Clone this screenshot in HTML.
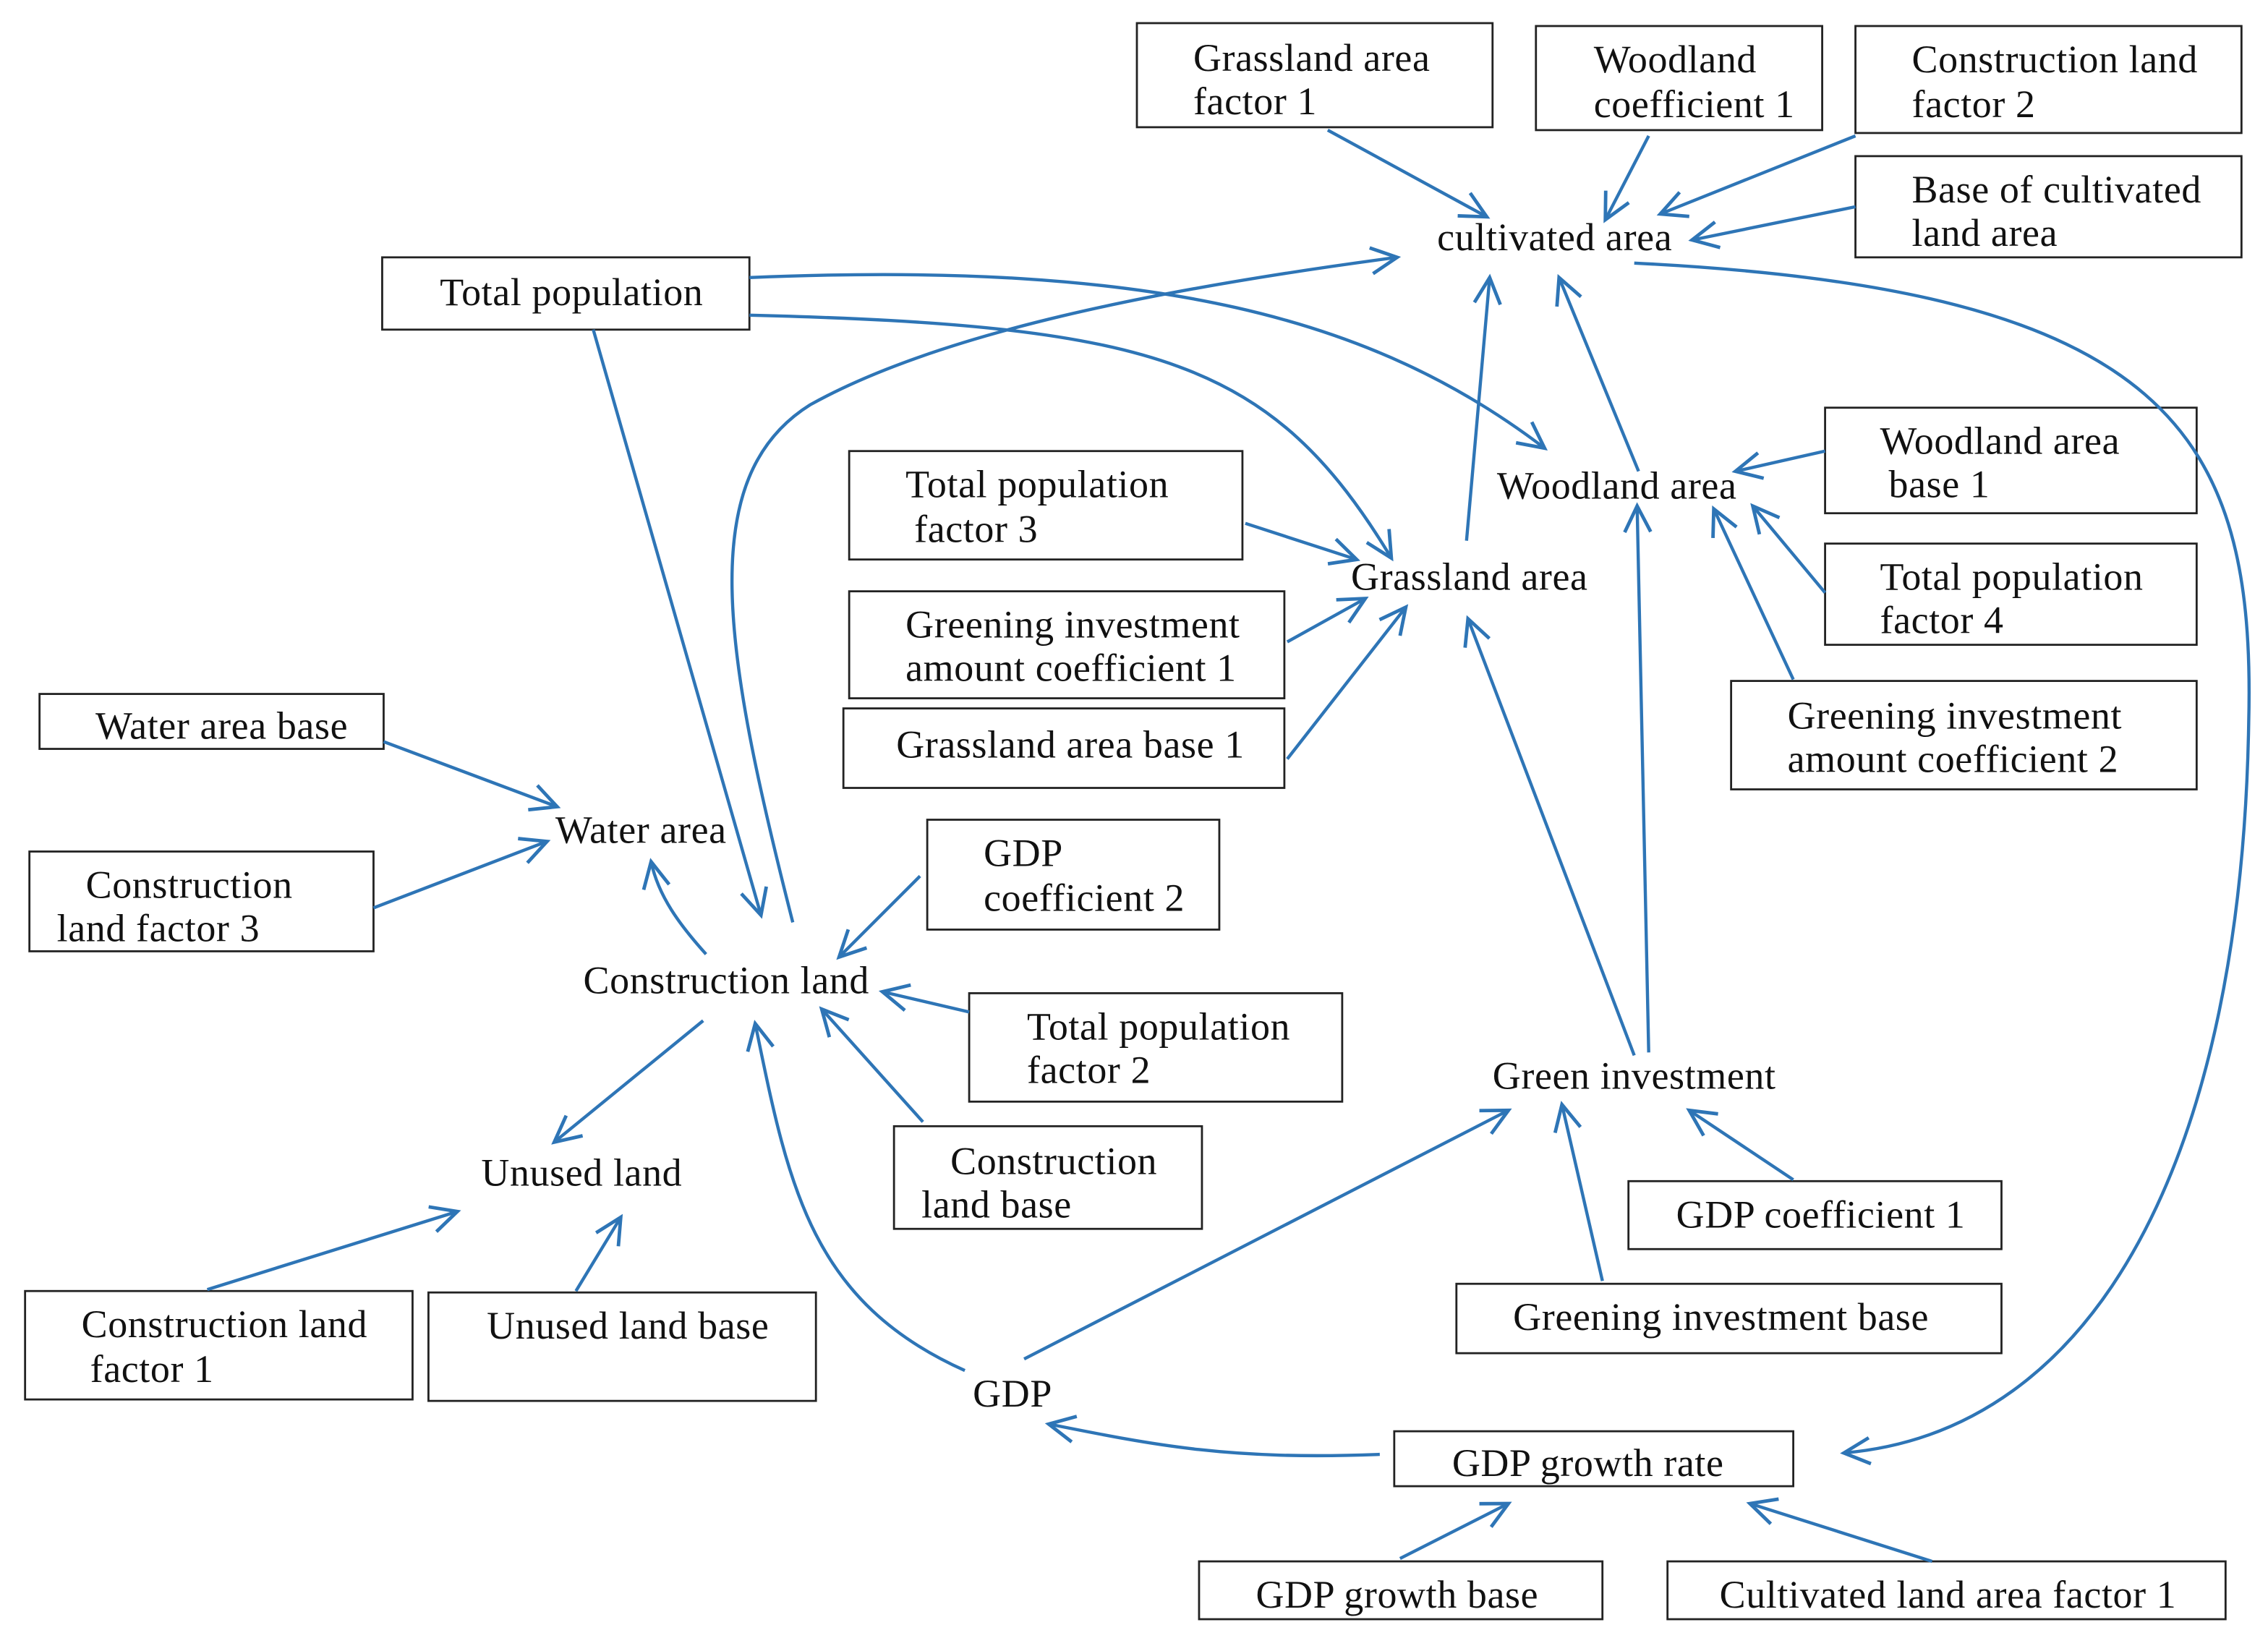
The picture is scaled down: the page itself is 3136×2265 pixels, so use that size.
<!DOCTYPE html>
<html><head><meta charset="utf-8"><style>
html,body{margin:0;padding:0;background:#fff}
svg{display:block}
text{font-family:"Liberation Serif",serif;font-size:27px;letter-spacing:0.3px;fill:#111}
rect{fill:#fff;stroke:#222;stroke-width:1.4}
.l{fill:none;stroke:#2e75b6;stroke-width:2.2;marker-end:url(#a)}
</style></head><body>
<svg width="3136" height="2265" viewBox="0 0 1568 1133" xmlns="http://www.w3.org/2000/svg">
<defs><marker id="a" markerUnits="userSpaceOnUse" markerWidth="30" markerHeight="30" refX="20" refY="15" orient="auto"><path d="M2,6 L20,15 L2,24" fill="none" stroke="#2e75b6" stroke-width="2.4"/></marker></defs>

<rect x="786" y="16" width="246" height="72"/><text x="825" y="49">Grassland area</text><text x="825" y="79">factor 1</text>
<rect x="1062" y="18" width="198" height="72"/><text x="1102" y="50">Woodland</text><text x="1102" y="81">coefficient 1</text>
<rect x="1283" y="18" width="267" height="74"/><text x="1322" y="50">Construction land</text><text x="1322" y="81">factor 2</text>
<rect x="1283" y="108" width="267" height="70"/><text x="1322" y="140">Base of cultivated</text><text x="1322" y="170">land area</text>
<rect x="264" y="178" width="254" height="50"/><text x="395" y="211" text-anchor="middle">Total population</text>
<rect x="587" y="312" width="272" height="75"/><text x="626" y="344">Total population</text><text x="632" y="375">factor 3</text>
<rect x="587" y="409" width="301" height="74"/><text x="626" y="441">Greening investment</text><text x="626" y="471">amount coefficient 1</text>
<rect x="583" y="490" width="305" height="55"/><text x="740" y="524" text-anchor="middle">Grassland area base 1</text>
<rect x="1262" y="282" width="257" height="73"/><text x="1300" y="314">Woodland area</text><text x="1306" y="344">base 1</text>
<rect x="1262" y="376" width="257" height="70"/><text x="1300" y="408">Total population</text><text x="1300" y="438">factor 4</text>
<rect x="1197" y="471" width="322" height="75"/><text x="1236" y="504">Greening investment</text><text x="1236" y="534">amount coefficient 2</text>
<rect x="27" y="480" width="238" height="38"/><text x="153" y="511" text-anchor="middle">Water area base</text>
<rect x="20" y="589" width="238" height="69"/><text x="59" y="621">Construction</text><text x="39" y="651">land factor 3</text>
<rect x="641" y="567" width="202" height="76"/><text x="680" y="599">GDP</text><text x="680" y="630">coefficient 2</text>
<rect x="670" y="687" width="258" height="75"/><text x="710" y="719">Total population</text><text x="710" y="749">factor 2</text>
<rect x="618" y="779" width="213" height="71"/><text x="657" y="812">Construction</text><text x="637" y="842">land base</text>
<rect x="1126" y="817" width="258" height="47"/><text x="1259" y="849" text-anchor="middle">GDP coefficient 1</text>
<rect x="1007" y="888" width="377" height="48"/><text x="1190" y="920" text-anchor="middle">Greening investment base</text>
<rect x="17" y="893" width="268" height="75"/><text x="56" y="925">Construction land</text><text x="62" y="956">factor 1</text>
<rect x="296" y="894" width="268" height="75"/><text x="434" y="926" text-anchor="middle">Unused land base</text>
<rect x="964" y="990" width="276" height="38"/><text x="1098" y="1021" text-anchor="middle">GDP growth rate</text>
<rect x="829" y="1080" width="279" height="40"/><text x="966" y="1112" text-anchor="middle">GDP growth base</text>
<rect x="1153" y="1080" width="386" height="40"/><text x="1347" y="1112" text-anchor="middle">Cultivated land area factor 1</text>

<text x="1075" y="173" text-anchor="middle">cultivated area</text>
<text x="1118" y="345" text-anchor="middle">Woodland area</text>
<text x="1016" y="408" text-anchor="middle">Grassland area</text>
<text x="443" y="583" text-anchor="middle">Water area</text>
<text x="502" y="687" text-anchor="middle">Construction land</text>
<text x="402" y="820" text-anchor="middle">Unused land</text>
<text x="1130" y="753" text-anchor="middle">Green investment</text>
<text x="700" y="973" text-anchor="middle">GDP</text>

<path class="l" d="M918,90 L1028,150"/>
<path class="l" d="M1140,94 L1110,152"/>
<path class="l" d="M1283,94 L1148,148"/>
<path class="l" d="M1283,143 L1170,166"/>
<path class="l" d="M1130,182 C1500,200 1560,300 1555,500 C1550,800 1450,990 1275,1005"/>
<path class="l" d="M518,192 C800,180 950,220 1068,310"/>
<path class="l" d="M518,218 C800,225 880,250 962,386"/>
<path class="l" d="M410,228 L526,633"/>
<path class="l" d="M548,638 C500,450 480,330 560,280 C650,230 800,200 966,178"/>
<path class="l" d="M1014,374 L1030,192"/>
<path class="l" d="M1133,326 L1078,192"/>
<path class="l" d="M1262,312 L1200,326"/>
<path class="l" d="M1262,410 L1212,350"/>
<path class="l" d="M1240,470 L1185,352"/>
<path class="l" d="M861,362 L938,387"/>
<path class="l" d="M890,444 L944,414"/>
<path class="l" d="M890,525 L972,420"/>
<path class="l" d="M1130,730 L1015,428"/>
<path class="l" d="M1140,728 L1132,350"/>
<path class="l" d="M265,513 L385,558"/>
<path class="l" d="M258,628 L378,582"/>
<path class="l" d="M488,660 C470,640 455,620 450,596"/>
<path class="l" d="M636,606 L580,662"/>
<path class="l" d="M670,700 L610,686"/>
<path class="l" d="M638,776 L568,698"/>
<path class="l" d="M486,706 L383,790"/>
<path class="l" d="M143,892 L316,838"/>
<path class="l" d="M398,893 L429,842"/>
<path class="l" d="M667,948 C560,900 545,820 522,708"/>
<path class="l" d="M708,940 L1043,768"/>
<path class="l" d="M1108,886 L1080,764"/>
<path class="l" d="M1240,816 L1168,768"/>
<path class="l" d="M954,1006 C850,1010 800,1000 725,985"/>
<path class="l" d="M968,1078 L1043,1040"/>
<path class="l" d="M1336,1080 L1210,1040"/>
</svg>
</body></html>
